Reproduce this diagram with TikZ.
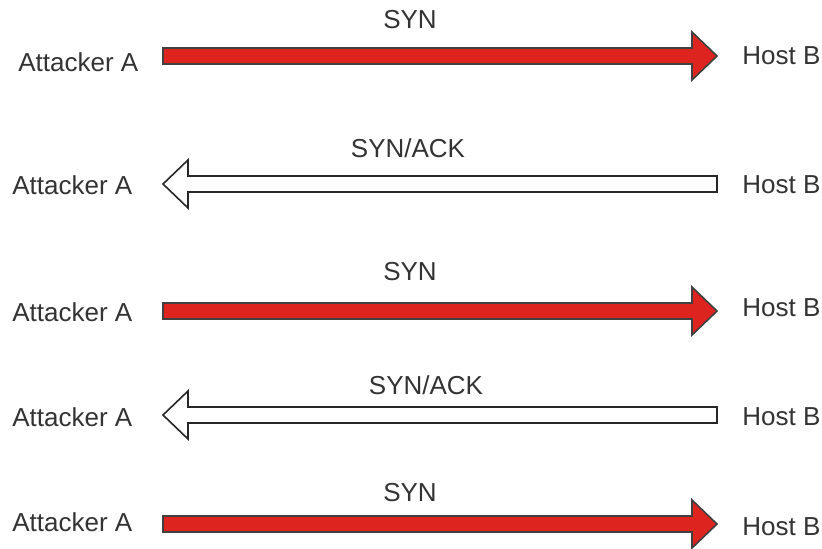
\documentclass[tikz,border=0pt]{standalone}
\usepackage{fontspec}
\setmainfont{Liberation Sans}
\usetikzlibrary{calc,positioning}
\definecolor{synred}{RGB}{221,36,30}
\tikzset{
  peer/.style={inner sep=0pt, anchor=west, font=\fontsize{13}{15}\selectfont, text=black!80},
  msg/.style={inner sep=0pt, font=\fontsize{13}{15}\selectfont, text=black!80},
  toright/.style={to path={($(\tikztostart)+(0,-8)$) -- ($(\tikztotarget)+(-25,-8)$) -- ++(0,-16)
      -- (\tikztotarget) -- ++(-25,24) -- ++(0,-16) -- ($(\tikztostart)+(0,8)$) -- cycle}},
  toleft/.style={to path={($(\tikztostart)+(0,-8)$) -- ($(\tikztotarget)+(25,-8)$) -- ++(0,-16)
      -- (\tikztotarget) -- ++(25,24) -- ++(0,-16) -- ($(\tikztostart)+(0,8)$) -- cycle}},
  synarr/.style={toright, draw=black!75, fill=synred, line width=0.8pt, line join=miter},
  ackarr/.style={toleft, draw=black!85, fill=white, line width=0.8pt, line join=miter}
}

\begin{document}
\begin{tikzpicture}[x=0.5pt, y=-0.5pt]
\useasboundingbox (0,0) rectangle (822,548);

% SYN
\node[peer] (a1) at (18,62) {Attacker A};
\node[peer] (b1) at (742,56) {Host B};
\node[msg] (m1) at (410,20) {SYN};
\coordinate (t1) at (163,56);
\coordinate (h1) at (717,56);
\draw[synarr] (t1) to (h1);

% SYN/ACK
\node[peer] (a2) at (12,185) {Attacker A};
\node[peer] (b2) at (742,185) {Host B};
\node[msg] (m2) at (408,148) {SYN/ACK};
\coordinate (t2) at (717,184);
\coordinate (h2) at (163,184);
\draw[ackarr] (t2) to (h2);

% SYN
\node[peer] (a3) at (12,312) {Attacker A};
\node[peer] (b3) at (742,308) {Host B};
\node[msg] (m3) at (410,272) {SYN};
\coordinate (t3) at (163,311);
\coordinate (h3) at (717,311);
\draw[synarr] (t3) to (h3);

% SYN/ACK
\node[peer] (a4) at (12,417) {Attacker A};
\node[peer] (b4) at (742,417) {Host B};
\node[msg] (m4) at (426,385) {SYN/ACK};
\coordinate (t4) at (717,415);
\coordinate (h4) at (163,415);
\draw[ackarr] (t4) to (h4);

% SYN
\node[peer] (a5) at (12,522) {Attacker A};
\node[peer] (b5) at (742,527) {Host B};
\node[msg] (m5) at (410,493) {SYN};
\coordinate (t5) at (163,524);
\coordinate (h5) at (717,524);
\draw[synarr] (t5) to (h5);
\end{tikzpicture}
\end{document}
